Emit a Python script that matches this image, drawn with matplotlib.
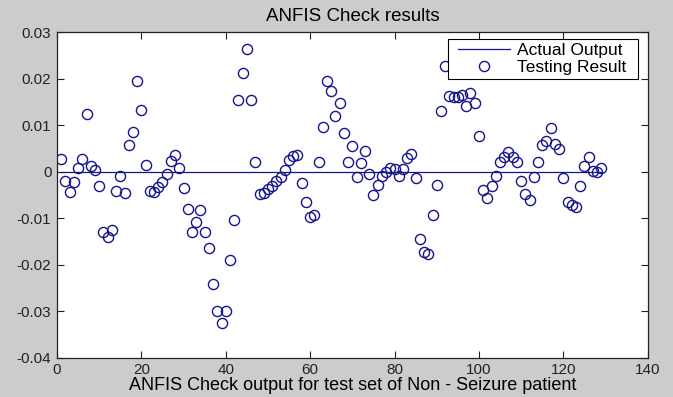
import matplotlib
matplotlib.use("Agg")
import matplotlib.pyplot as plt
from matplotlib.patches import Rectangle
import numpy as np

# Testing result values, sample index 1..N
testing_result = [
    0.0028, -0.0020, -0.0043, -0.0022, 0.0008, 0.0027, 0.0125, 0.0013, 0.0004, -0.0030,
    -0.0130, -0.0140, -0.0125, -0.0042, -0.0010, -0.0045, 0.0057, 0.0086, 0.0196, 0.0134,
    0.0014, -0.0041, -0.0043, -0.0032, -0.0022, -0.0005, 0.0024, 0.0036, 0.0009, -0.0035,
    -0.0081, -0.0129, -0.0107, -0.0082, -0.0130, -0.0164, -0.0242, -0.0300, -0.0325, -0.0300,
    -0.0189, -0.0104, 0.0155, 0.0213, 0.0264, 0.0154, 0.0022, -0.0047, -0.0045, -0.0038,
    -0.0030, -0.0020, -0.0012, 0.0004, 0.0026, 0.0034, 0.0036, -0.0025, -0.0066, -0.0097,
    -0.0092, 0.0020, 0.0096, 0.0195, 0.0174, 0.0121, 0.0147, 0.0084, 0.0020, 0.0055,
    -0.0012, 0.0018, 0.0045, -0.0005, -0.0050, -0.0028, -0.0009, 0.0000, 0.0009, 0.0006,
    -0.0009, 0.0006, 0.0030, 0.0038, -0.0014, -0.0144, -0.0172, -0.0176, -0.0093, -0.0028,
    0.0130, 0.0228, 0.0164, 0.0161, 0.0161, 0.0165, 0.0141, 0.0170, 0.0149, 0.0076,
    -0.0039, -0.0057, -0.0030, -0.0009, 0.0022, 0.0031, 0.0042, 0.0031, 0.0020, -0.0019,
    -0.0047, -0.0061, -0.0011, 0.0020, 0.0058, 0.0067, 0.0094, 0.0060, 0.0049, -0.0013,
    -0.0064, -0.0071, -0.0076, -0.0030, 0.0012, 0.0032, 0.0002, -0.0001, 0.0009,
]
actual_output = [0.0] * len(testing_result)
sample_index = list(range(1, len(testing_result) + 1))

x_ticks = [0, 20, 40, 60, 80, 100, 120, 140]
y_ticks = [-0.04, -0.03, -0.02, -0.01, 0, 0.01, 0.02, 0.03]
y_tick_labels = ["-0.04", "-0.03", "-0.02", "-0.01", "0", "0.01", "0.02", "0.03"]

plt.rcParams['font.family'] = ['Liberation Sans', 'DejaVu Sans']

fig = plt.figure(figsize=(6.73, 3.97), dpi=100, facecolor='#cccccc')
ax = fig.add_axes([0.0847, 0.099, 0.8777, 0.8195])
ax.set_facecolor('white')

blue = '#14148c'
ax.plot(sample_index, actual_output, '-', color=blue, lw=0.9, label='Actual Output')
ax.plot(sample_index, testing_result, 'o', mfc='none', mec=blue, ms=7.3, mew=1.0,
        label='Testing Result')

ax.set_xlim(0, 140)
ax.set_ylim(-0.04, 0.03)
ax.set_xticks(x_ticks)
ax.set_yticks(y_ticks)
ax.set_yticklabels(y_tick_labels)
ax.tick_params(direction='in', top=True, right=True, labelsize=11, length=5,
               width=0.8, pad=4, colors='#222222')
for s in ax.spines.values():
    s.set_linewidth(0.9)
    s.set_color('#222222')

ax.set_title('ANFIS Check results', fontsize=13.5, pad=8)
ax.set_xlabel('ANFIS Check output for test set of Non - Seizure patient', fontsize=13,
              labelpad=0)

# legend box (MATLAB style) and entries
box = Rectangle((0.662, 0.8558), 0.9836 - 0.662, 0.979 - 0.8558,
                transform=ax.transAxes, facecolor='white', edgecolor='black',
                lw=0.8, zorder=4)
ax.add_patch(box)
leg = ax.legend(loc='upper left', bbox_to_anchor=(0.673, 0.979), borderaxespad=0,
                fontsize=12.5, frameon=False,
                borderpad=0.2, handlelength=3.0, handletextpad=0.4,
                labelspacing=0.1)
leg.set_zorder(5)

fig.savefig('out.png', dpi=100, facecolor=fig.get_facecolor())
